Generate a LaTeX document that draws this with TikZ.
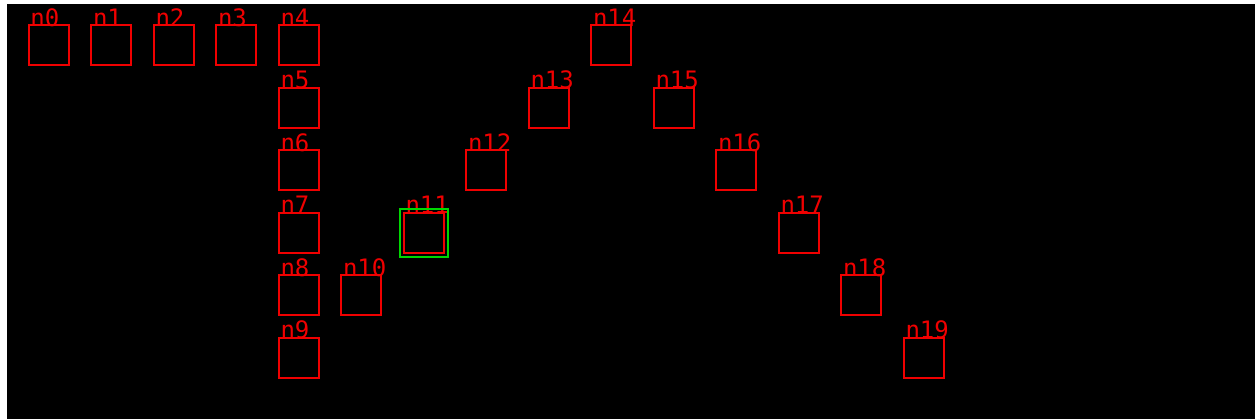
\documentclass[tikz,border=0pt]{standalone}
\usepackage{fontspec}
\setmonofont{DejaVu Sans Mono}
\usetikzlibrary{positioning}
\definecolor{boxred}{RGB}{240,0,0}
\definecolor{selgreen}{RGB}{0,215,0}

\begin{document}
\begin{tikzpicture}[
    x=1pt, y=-1pt,
    node distance=22.5pt and 22.5pt,
    tag/.style={anchor=base west, inner sep=0pt, outer sep=0pt, font=\fontsize{24}{24}\ttfamily, text=boxred, xshift=2pt, yshift=-1pt},
    cell/.style={draw=boxred, line width=2pt, rectangle, minimum size=40pt, inner sep=0pt, outer sep=0pt, label={[tag]north west:#1}},
    pick/.style={draw=selgreen, line width=2pt, rectangle, minimum size=48pt, inner sep=0pt, outer sep=0pt}
]
    \useasboundingbox (0,0) rectangle (1255,419);
    \fill[white] (0,0) rectangle (1255,419);
    \fill[black] (7,4) rectangle (1255,419);

    % top row
    \node[cell=n0] (n0) at (48.5,45.5) {};
    \node[cell=n1, right=of n0] (n1) {};
    \node[cell=n2, right=of n1] (n2) {};
    \node[cell=n3, right=of n2] (n3) {};
    \node[cell=n4, right=of n3] (n4) {};

    % column under n4
    \node[cell=n5, below=of n4] (n5) {};
    \node[cell=n6, below=of n5] (n6) {};
    \node[cell=n7, below=of n6] (n7) {};
    \node[cell=n8, below=of n7] (n8) {};
    \node[cell=n9, below=of n8] (n9) {};

    % rising diagonal
    \node[cell=n10, right=of n8] (n10) {};
    \node[cell=n11, above right=of n10] (n11) {};
    \node[cell=n12, above right=of n11] (n12) {};
    \node[cell=n13, above right=of n12] (n13) {};
    \node[cell=n14, above right=of n13] (n14) {};

    % falling diagonal
    \node[cell=n15, below right=of n14] (n15) {};
    \node[cell=n16, below right=of n15] (n16) {};
    \node[cell=n17, below right=of n16] (n17) {};
    \node[cell=n18, below right=of n17] (n18) {};
    \node[cell=n19, below right=of n18] (n19) {};

    \node[pick] (sel) at (n11) {};

\end{tikzpicture}
\end{document}
